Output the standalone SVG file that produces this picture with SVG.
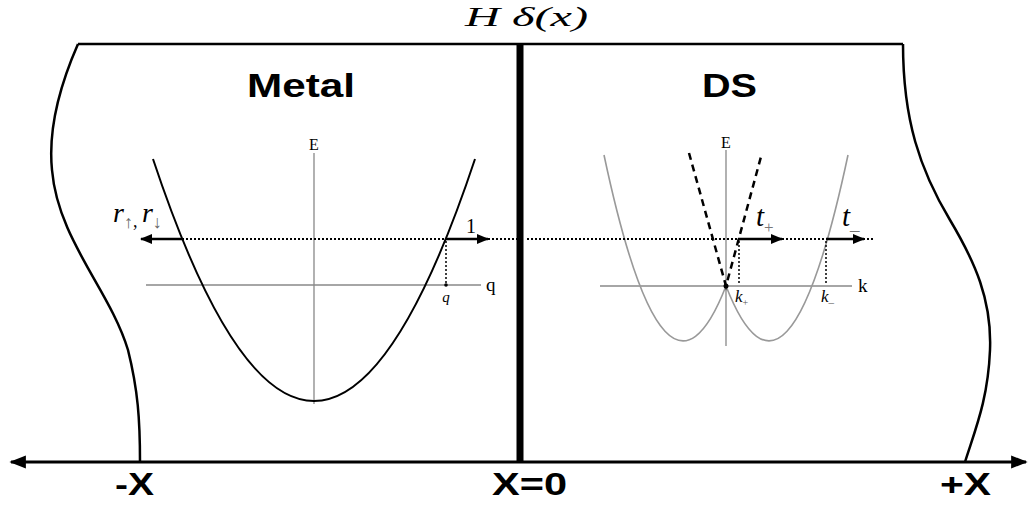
<svg xmlns="http://www.w3.org/2000/svg" width="1032" height="507" viewBox="0 0 1032 507">
<defs>
<marker id="ah" viewBox="0 0 10 10" refX="9" refY="5" markerWidth="5" markerHeight="5" orient="auto-start-reverse" markerUnits="strokeWidth">
<path d="M0,1 L10,5 L0,9 z" fill="#000"/>
</marker>
<marker id="ah2" viewBox="0 0 10 10" refX="9" refY="5" markerWidth="5.5" markerHeight="5.5" orient="auto-start-reverse" markerUnits="strokeWidth">
<path d="M0,1 L10,5 L0,9 z" fill="#000"/>
</marker>
</defs>
<style>
.frame{fill:none;stroke:#000;stroke-width:2.5}
.axis{fill:none;stroke:#888;stroke-width:1.3}
.dot{fill:none;stroke:#000;stroke-width:2;stroke-dasharray:2,2}
.vdot{fill:none;stroke:#000;stroke-width:1.5;stroke-dasharray:2,2}
.arr{fill:none;stroke:#000;stroke-width:2.5}
.title{font-family:"Liberation Sans",Arial,sans-serif;font-weight:bold;font-size:33px;fill:#000}
.lab{font-family:"Liberation Sans",Arial,sans-serif;font-weight:bold;font-size:32px;fill:#000}
.serif{font-family:"Liberation Serif","Times New Roman",serif;fill:#000}
.it{font-style:italic}
</style>
<rect width="1032" height="507" fill="#fff"/>

<g id="frame">
<path class="frame" d="M78,44 L903,44"/>
<path class="frame" d="M78,44 C60,85 48,130 52,170 C58,240 110,290 128,350 C138,390 140,420 140,462"/>
<path class="frame" d="M903,44 C903,120 920,170 950,220 C975,262 992,300 990,350 C988,400 975,430 965,462"/>
<line x1="520" y1="44" x2="520" y2="462" stroke="#000" stroke-width="7"/>
</g>

<g id="title-H">
<text class="serif it" x="465" y="26" font-size="28" textLength="123" lengthAdjust="spacingAndGlyphs">H δ(x)</text>
</g>

<g id="metal">
<text class="title" x="247" y="97" textLength="108" lengthAdjust="spacingAndGlyphs">Metal</text>
<line class="axis" x1="314" y1="153" x2="314" y2="404"/>
<line class="axis" x1="146" y1="285" x2="481" y2="285"/>
<text class="serif" x="314" y="150" font-size="16" text-anchor="middle">E</text>
<text class="serif" x="486" y="291" font-size="19">q</text>
<path d="M153,159 Q314,643 475,159" fill="none" stroke="#000" stroke-width="2"/>
<line class="vdot" x1="446" y1="241" x2="446" y2="285"/>
<circle cx="446" cy="285" r="1.8" fill="#000"/>
<text class="serif it" x="446" y="302" font-size="15" text-anchor="middle">q</text>
<text class="serif" x="466" y="233" font-size="20">1</text>
<text class="serif it" x="113" y="222" font-size="28">r<tspan font-style="normal" font-size="18" fill="#666" dy="6">↑</tspan><tspan font-style="normal" font-size="18" dy="-1">, </tspan><tspan dy="-5">r</tspan><tspan font-style="normal" font-size="18" fill="#666" dy="6">↓</tspan></text>
</g>

<g id="ds">
<text class="title" x="702" y="97" textLength="55" lengthAdjust="spacingAndGlyphs">DS</text>
<line class="axis" x1="726" y1="150" x2="726" y2="346"/>
<line class="axis" x1="600" y1="286" x2="852" y2="286"/>
<text class="serif" x="726" y="148" font-size="16" text-anchor="middle">E</text>
<text class="serif" x="858" y="292" font-size="19">k</text>
<path d="M604,155 Q665,442 726,286" fill="none" stroke="#999" stroke-width="1.6"/>
<path d="M726,286 Q787,442 848,155" fill="none" stroke="#999" stroke-width="1.6"/>
<path d="M689,153 L726,286 L762,153" fill="none" stroke="#000" stroke-width="2.5" stroke-dasharray="7,5"/>
<circle cx="726" cy="286" r="2.5" fill="#000"/>
<line class="vdot" x1="739" y1="241" x2="739" y2="285"/>
<line class="vdot" x1="826" y1="241" x2="826" y2="285"/>
<text class="serif it" x="735" y="302" font-size="17">k<tspan font-style="normal" font-size="10" fill="#555" dy="4">+</tspan></text>
<text class="serif it" x="821" y="302" font-size="17">k<tspan font-style="normal" font-size="11" fill="#555" dy="4">–</tspan></text>
<text class="serif it" x="756" y="226" font-size="29">t<tspan font-style="normal" font-size="17" fill="#777" dy="7">+</tspan></text>
<text class="serif it" x="842" y="226" font-size="29">t<tspan font-style="normal" font-size="19" fill="#777" dy="4">_</tspan></text>
</g>

<g id="connectors">
<line class="dot" x1="182" y1="239" x2="446" y2="239"/>
<line class="dot" x1="488" y1="239" x2="517" y2="239"/>
<line class="dot" x1="527" y1="239" x2="738" y2="239"/>
<line class="dot" x1="782" y1="239" x2="826" y2="239"/>
<line class="dot" x1="863" y1="239" x2="875" y2="239"/>
<line class="arr" x1="182" y1="239" x2="141" y2="239" marker-end="url(#ah)"/>
<line class="arr" x1="446" y1="239" x2="488" y2="239" marker-end="url(#ah)"/>
<line class="arr" x1="738" y1="239" x2="782" y2="239" marker-end="url(#ah)"/>
<line class="arr" x1="826" y1="239" x2="864" y2="239" marker-end="url(#ah)"/>
<line x1="11" y1="462" x2="1026" y2="462" stroke="#000" stroke-width="3" marker-start="url(#ah2)" marker-end="url(#ah2)"/>
</g>

<g id="axis-labels">
<text class="lab" x="115" y="495" textLength="39" lengthAdjust="spacingAndGlyphs">-X</text>
<text class="lab" x="492" y="495" textLength="75" lengthAdjust="spacingAndGlyphs">X=0</text>
<text class="lab" x="940" y="495" textLength="51" lengthAdjust="spacingAndGlyphs">+X</text>
</g>
</svg>
